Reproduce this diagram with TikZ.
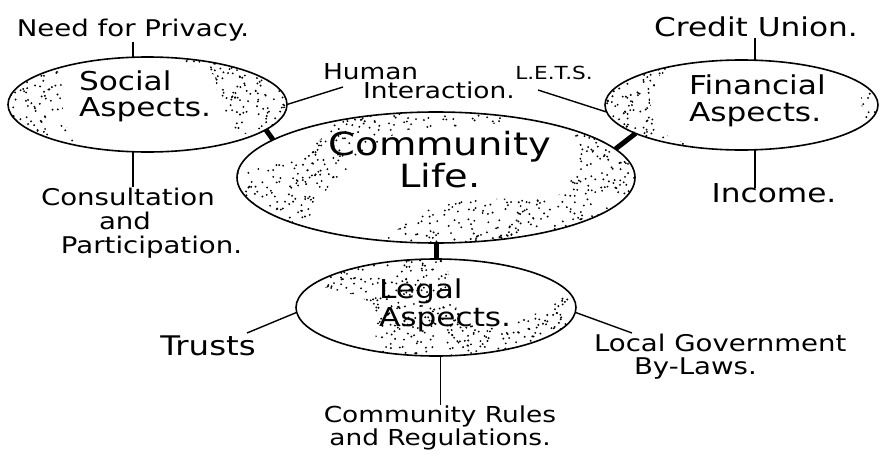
\documentclass[tikz,border=0pt]{standalone}
\usepackage{fontspec}
\setmainfont[FakeStretch=1.2]{DejaVu Sans}
\usetikzlibrary{shapes.geometric}
\newcommand\stip[5]{\foreach \k in {1,...,#5}{\pgfmathsetmacro\sx{#1+rnd*(#3-#1)}\pgfmathsetmacro\sy{#2+rnd*(#4-#2)}\fill (\sx,\sy) circle[radius=1.05pt];}}
\newcommand\fs[2]{\fontsize{#1}{#2}\selectfont}
\begin{document}
\begin{tikzpicture}[x=1pt,y=-1pt,
  ell/.style={ellipse, draw, line width=1.6pt, inner sep=0pt, outer sep=0pt},
  lbl/.style={inner sep=1pt, outer sep=0pt},
  thin/.style={line width=1.4pt},
  heavy/.style={line width=5pt}]
\useasboundingbox (0,0) rectangle (880,463);
\fill[white] (0,0) rectangle (880,463);
\pgfmathsetseed{7}
% --- stipple: Social
\begin{scope}
\clip (147.5,104.5) ellipse [x radius=139.5pt, y radius=47.5pt];
\begin{scope}\clip (0,50) -- (55,60) -- (64,90) -- (62,120) -- (75,140) -- (100,155) -- (0,155) -- cycle;
\stip{0}{50}{100}{155}{240}\end{scope}
\begin{scope}\clip (170,55) -- (290,55) -- (290,150) -- (235,130) -- (218,100) -- (215,75) -- (180,62) -- cycle;
\stip{170}{55}{290}{150}{260}\end{scope}
\end{scope}
% --- stipple: Community
\begin{scope}
\clip (436,177.5) ellipse [x radius=199pt, y radius=65.5pt];
\begin{scope}\clip (343,113) -- (503,113) -- (503,123) -- (403,130) -- (370,147) -- (340,177) -- (317,200) -- (310,250) -- (230,250) -- (230,173) -- (297,160) -- (323,137) -- cycle;
\stip{230}{110}{503}{250}{800}\end{scope}
\begin{scope}\clip (377,247) -- (417,213) -- (463,200) -- (557,197) -- (577,173) -- (580,140) -- (563,127) -- (650,127) -- (650,247) -- cycle;
\stip{377}{127}{650}{247}{760}\end{scope}
\end{scope}
% --- stipple: Financial
\begin{scope}
\clip (741.5,105) ellipse [x radius=136.5pt, y radius=45pt];
\begin{scope}\clip (600,60) -- (690,60) -- (660,75) -- (650,100) -- (655,130) -- (710,155) -- (600,155) -- cycle;
\stip{600}{60}{710}{155}{240}\end{scope}
\begin{scope}\clip (860,80) -- (890,80) -- (890,140) -- (850,140) -- (862,110) -- cycle;
\stip{850}{80}{890}{140}{25}\end{scope}
\end{scope}
% --- stipple: Legal
\begin{scope}
\clip (436,307.5) ellipse [x radius=140pt, y radius=48.5pt];
\begin{scope}\clip (320,280) -- (350,263) -- (447,258) -- (450,293) -- (463,323) -- (507,327) -- (543,310) -- (570,290) -- (583,290) -- (583,360) -- (373,360) -- (377,323) -- (363,297) -- (323,287) -- cycle;
\stip{320}{258}{583}{360}{640}\end{scope}
\end{scope}
% --- ellipses
\node[ell, minimum width=279pt, minimum height=95pt] (soc) at (147.5,104.5) {};
\node[ell, minimum width=398pt, minimum height=131pt] (com) at (436,177.5) {};
\node[ell, minimum width=273pt, minimum height=90pt] (fin) at (741.5,105) {};
\node[ell, minimum width=280pt, minimum height=97pt] (leg) at (436,307.5) {};
% --- labels
\node[lbl, font=\fs{23}{22}] (needT) at (133,30) {Need for Privacy.};
\node[lbl, font=\fs{26}{26}, align=left, anchor=west] (socT) at (78,96) {Social\\Aspects.};
\node[lbl, font=\fs{22}{19}, align=left, anchor=west] (humT) at (322,81) {Human\\\hspace*{40pt}Interaction.};
\node[lbl, font=\fs{18}{18}] (letsT) at (554,73) {L.E.T.S.};
\node[lbl, font=\fs{32}{28}, align=center] (comT) at (440,160) {Community\\Life.};
\node[lbl, font=\fs{26}{24}] (credT) at (756,27) {Credit Union.};
\node[lbl, font=\fs{26}{27}, align=left, anchor=west] (finT) at (688,101) {Financial\\Aspects.};
\node[lbl, font=\fs{26}{24}] (incT) at (774,193) {Income.};
\node[lbl, font=\fs{23}{24}, align=left, anchor=west] (consT) at (40,223) {Consultation\\\hspace*{58pt}and\\\hspace*{20pt}Participation.};
\node[lbl, font=\fs{26}{28}, align=left, anchor=west] (legT) at (378,305) {Legal\\Aspects.};
\node[lbl, font=\fs{27}{24}] (trT) at (208,346) {Trusts};
\node[lbl, font=\fs{23}{23}, align=left, anchor=west] (lgT) at (593,357) {Local Government\\\hspace*{40pt}By-Laws.};
\node[lbl, font=\fs{22}{23}, align=center] (crT) at (440,428) {Community Rules\\and Regulations.};
% --- free ends
\coordinate (hiEnd) at (343,87);
\coordinate (letsEnd) at (538,90);
\coordinate (trEnd) at (247,333);
\coordinate (lgEnd) at (632,333);
% --- thick links
\draw[heavy] (soc.-12) -- (com.167);
\draw[heavy] (com.9) -- (fin.195);
\draw[heavy] (com.south) -- (leg.north);
% --- thin links
\draw[thin] (soc.107) -- (soc.107 |- needT.south);
\draw[thin] (soc.253) -- (soc.253 |- consT.north);
\draw[thin] (soc.east) -- (hiEnd);
\draw[thin] (fin.183) -- (letsEnd);
\draw[thin] (fin.73) -- (fin.73 |- credT.south);
\draw[thin] (fin.287) -- ([yshift=-6pt]fin.287 |- incT.north);
\draw[thin] (leg.182) -- (trEnd);
\draw[thin] (leg.-2) -- (lgEnd);
\draw[thin] (leg.275) -- (leg.275 |- crT.north);
\end{tikzpicture}
\end{document}
